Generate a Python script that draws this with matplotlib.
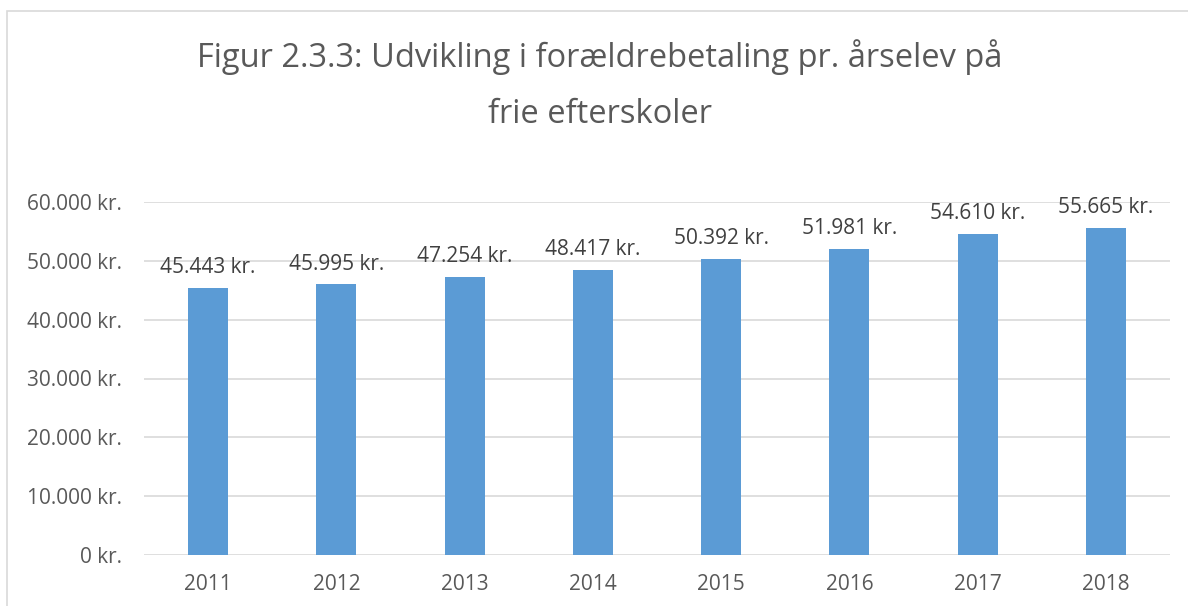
import matplotlib.pyplot as plt
from matplotlib.patches import Rectangle

years = ["2011", "2012", "2013", "2014", "2015", "2016", "2017", "2018"]
betaling = [45443, 45995, 47254, 48417, 50392, 51981, 54610, 55665]
yticks = [0, 10000, 20000, 30000, 40000, 50000, 60000]


def kr(v):
    return f"{v:,}".replace(",", ".") + " kr."


plt.rcParams['font.family'] = ['Open Sans', 'DejaVu Sans']
txt = '#595959'

fig = plt.figure(figsize=(11.88, 6.06), dpi=100)
ax = fig.add_axes([144 / 1188, 51 / 606, 1026 / 1188, 353 / 606])

x = range(len(years))
bars = ax.bar(x, betaling, width=0.31, color='#5B9BD5', zorder=3)
for b, v in zip(bars, betaling):
    ax.annotate(kr(v), (b.get_x() + b.get_width() / 2, v), xytext=(0, 7),
                textcoords='offset points', ha='center', va='bottom',
                fontsize=15, color='#404040', zorder=4)

ax.set_xlim(-0.5, len(years) - 0.5)
ax.set_ylim(0, 60000)
ax.set_yticks(yticks)
ax.set_yticklabels([kr(v) for v in yticks])
ax.set_xticks(list(x))
ax.set_xticklabels(years)
ax.tick_params(length=0, labelsize=15, colors=txt)
ax.tick_params(axis='y', pad=16)
ax.tick_params(axis='x', pad=14)
ax.grid(axis='y', color='#D9D9D9', linewidth=1.2, zorder=0)
for s in ax.spines.values():
    s.set_visible(False)

# titel i to linjer
fig.text(600 / 1188, 1 - 67 / 606, "Figur 2.3.3: Udvikling i forældrebetaling pr. årselev på",
         ha='center', va='baseline', fontsize=23.5, color=txt)
fig.text(600 / 1188, 1 - 123 / 606, "frie efterskoler",
         ha='center', va='baseline', fontsize=23.5, color=txt)

fig.patches.append(Rectangle((7 / 1188, -0.1), 1.2, 1 - 11 / 606 + 0.1,
                             transform=fig.transFigure, fill=False,
                             edgecolor='#D9D9D9', linewidth=1.2))

fig.savefig('out.png', dpi=100)
